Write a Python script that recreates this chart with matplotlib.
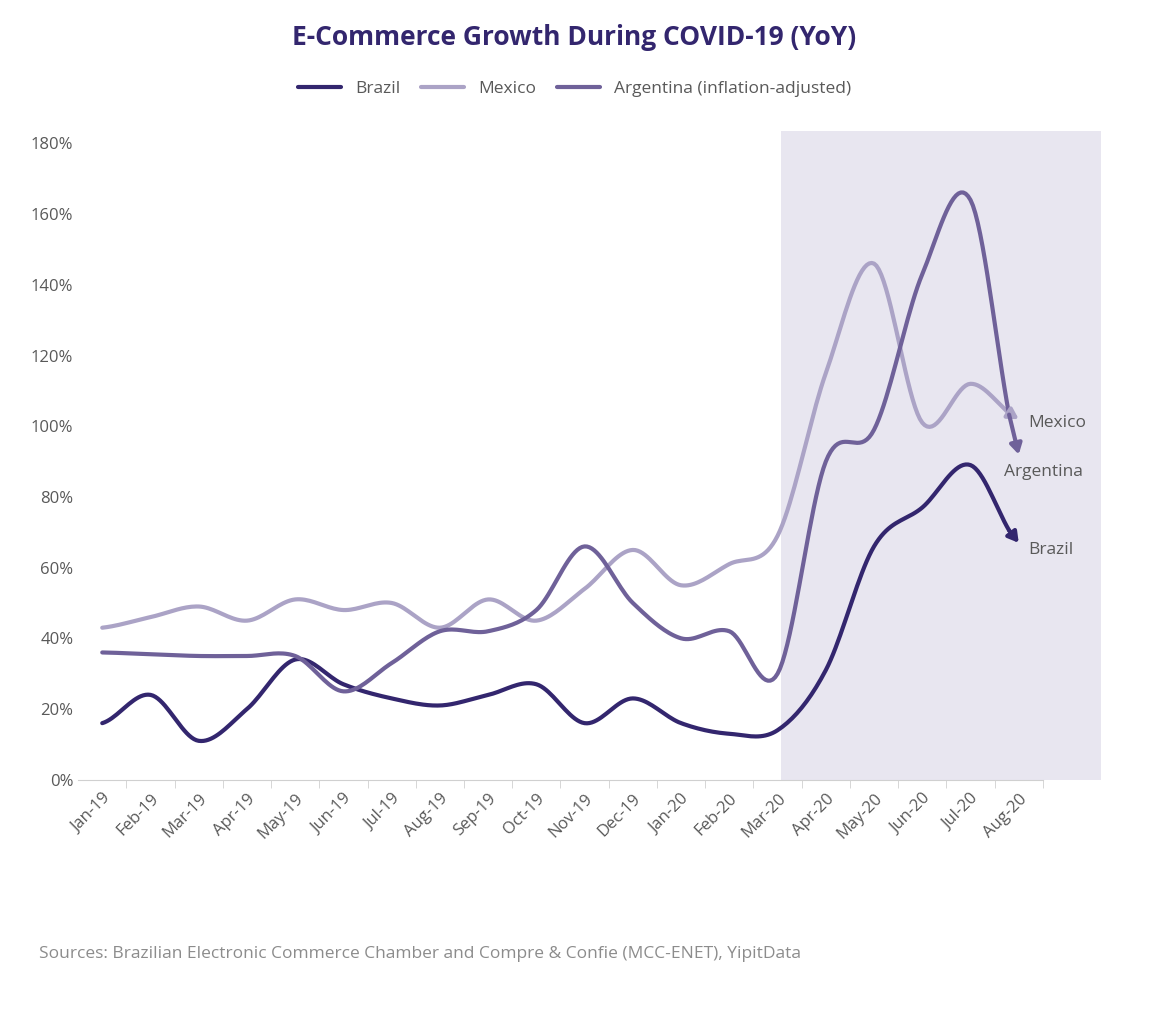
import numpy as np
import matplotlib.pyplot as plt
from matplotlib.patches import Rectangle

plt.rcParams['font.family'] = ['Open Sans', 'DejaVu Sans']

months = ['Jan-19', 'Feb-19', 'Mar-19', 'Apr-19', 'May-19', 'Jun-19', 'Jul-19', 'Aug-19',
          'Sep-19', 'Oct-19', 'Nov-19', 'Dec-19', 'Jan-20', 'Feb-20', 'Mar-20', 'Apr-20',
          'May-20', 'Jun-20', 'Jul-20', 'Aug-20']
brazil = [16, 24, 11, 20, 34, 27, 23, 21, 24, 27, 16, 23, 16, 13, 14, 31, 66, 77, 89, 67]
mexico = [43, 46, 49, 45, 51, 48, 50, 43, 51, 45, 54, 65, 55, 61, 69, 115, 146, 101, 112, 102]
argentina = [36, 35.5, 35, 35, 35, 25, 33, 42, 42, 48, 66, 50, 40, 42, 30, 90, 99, 143, 164, 92]

c_br, c_mx, c_ar = '#33266e', '#aba3c6', '#6f6199'


def smooth(y, n=20):
    # Catmull-Rom through the points
    y = np.asarray(y, float)
    p = np.concatenate([[y[0]], y, [y[-1]]])
    xs, ys = [], []
    for i in range(len(y) - 1):
        t = np.linspace(0, 1, n, endpoint=False)
        p0, p1, p2, p3 = p[i], p[i + 1], p[i + 2], p[i + 3]
        yy = 0.5 * (2 * p1 + (-p0 + p2) * t + (2 * p0 - 5 * p1 + 4 * p2 - p3) * t ** 2
                    + (-p0 + 3 * p1 - 3 * p2 + p3) * t ** 3)
        xs.extend(i + t)
        ys.extend(yy)
    xs.append(len(y) - 1)
    ys.append(y[-1])
    return np.array(xs), np.array(ys)


fig = plt.figure(figsize=(11.49, 10.1), dpi=100)
ax = fig.add_axes([0.068, 0.228, 0.89, 0.63])

ax.add_patch(Rectangle((14.07, 0), 20.7 - 14.07, 183.5, color='#e8e6f0', zorder=0, lw=0, clip_on=False))

for vals, col, name in [(brazil, c_br, 'Brazil'), (mexico, c_mx, 'Mexico'),
                        (argentina, c_ar, 'Argentina (inflation-adjusted)')]:
    xs, ys = smooth(vals)
    ax.plot(xs[:-4], ys[:-4], color=col, lw=3, label=name, solid_capstyle='round')
    ax.annotate('', xy=(xs[-1], ys[-1]), xytext=(xs[-5], ys[-5]),
                arrowprops=dict(arrowstyle='-|>,head_length=0.6,head_width=0.35', color=col, lw=3,
                                shrinkA=0, shrinkB=0))

ax.text(19.2, 101, 'Mexico', fontsize=12.5, color='#595959', va='center')
ax.text(18.7, 87, 'Argentina', fontsize=12.5, color='#595959', va='center')
ax.text(19.2, 65, 'Brazil', fontsize=12.5, color='#595959', va='center')

ax.set_xlim(-0.5, 20.7)
ax.set_ylim(0, 180)
ax.set_yticks(range(0, 181, 20))
ax.set_yticklabels([f'{v}%' for v in range(0, 181, 20)], fontsize=12, color='#595959')
ax.set_xticks(np.arange(len(months)) + 0.5, minor=True)
ax.set_xticks(range(len(months)))
ax.set_xticklabels(months, rotation=45, ha='right', rotation_mode='anchor', fontsize=12, color='#595959')
ax.tick_params(axis='x', which='major', length=0, pad=8)
ax.tick_params(axis='x', which='minor', length=6, color='#d0d0d0')
ax.tick_params(axis='y', length=0)
for s in ['top', 'right', 'left']:
    ax.spines[s].set_visible(False)
ax.spines['bottom'].set_color('#d0d0d0')
ax.spines['bottom'].set_bounds(-0.5, 19.5)

fig.text(0.5, 0.963, 'E-Commerce Growth During COVID-19 (YoY)', ha='center', va='center',
         fontsize=19, fontweight='bold', color='#33266e')
fig.legend(loc='center', bbox_to_anchor=(0.5, 0.912), ncol=3, frameon=False, fontsize=12.5,
           handlelength=2.5, columnspacing=1.2, labelcolor='#595959')
fig.text(0.034, 0.055, 'Sources: Brazilian Electronic Commerce Chamber and Compre & Confie (MCC-ENET), YipitData',
         fontsize=12.5, color='#8c8c8c', va='center')

fig.savefig('out.png', dpi=100)
